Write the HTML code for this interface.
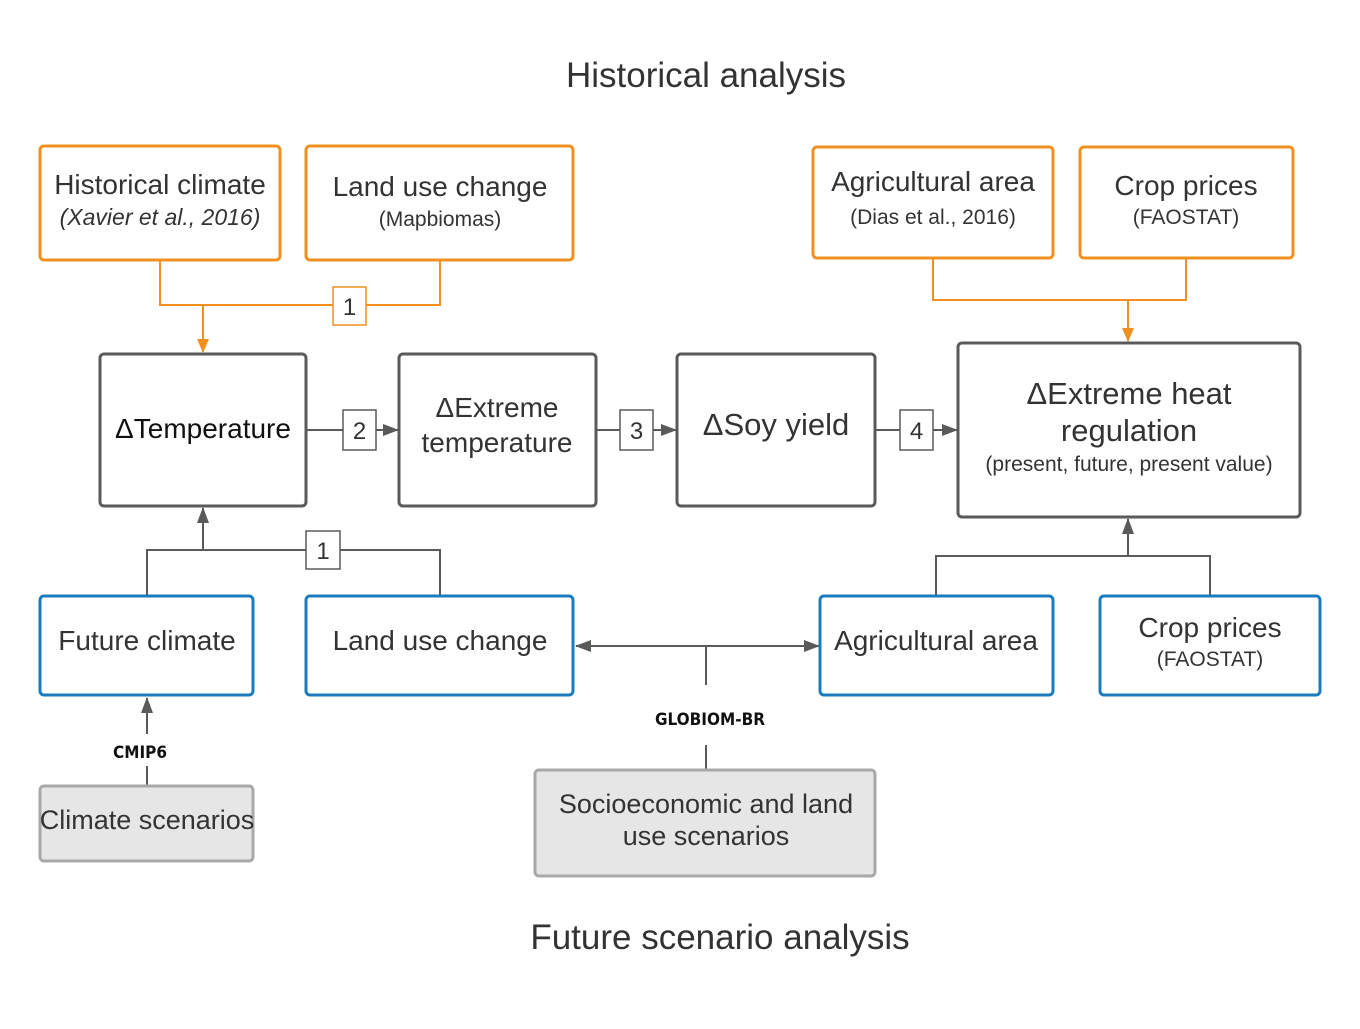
<!DOCTYPE html>
<html><head><meta charset="utf-8"><style>html,body{margin:0;padding:0;background:#fff}svg{display:block}text{font-family:"Liberation Sans",sans-serif;fill:#333}</style></head>
<body>
<svg width="1360" height="1029" viewBox="0 0 1360 1029" xmlns="http://www.w3.org/2000/svg">
<defs>
<marker id="ao" markerWidth="14" markerHeight="14" refX="13" refY="7" orient="auto" markerUnits="userSpaceOnUse"><path d="M0,1 L14,7 L0,13 z" fill="#f0901e"/></marker>
<marker id="ag" markerWidth="16" markerHeight="14" refX="15" refY="7" orient="auto" markerUnits="userSpaceOnUse"><path d="M0,1 L16,7 L0,13 z" fill="#5a5a5a"/></marker>
<marker id="ags" markerWidth="16" markerHeight="14" refX="1" refY="7" orient="auto" markerUnits="userSpaceOnUse"><path d="M16,1 L0,7 L16,13 z" fill="#5a5a5a"/></marker>
</defs>
<text x="706" y="87" font-size="35" text-anchor="middle">Historical analysis</text>
<text x="720" y="949" font-size="35" text-anchor="middle">Future scenario analysis</text>

<g fill="none" stroke="#f0901e" stroke-width="2">
<path d="M160,260 V305 H440 V260"/>
<path d="M203,305 V352" marker-end="url(#ao)"/>
<path d="M933,258 V300 H1186 V258"/>
<path d="M1128,300 V341" marker-end="url(#ao)"/>
</g>
<rect x="333" y="287" width="33" height="38" fill="#fff" stroke="#f0901e" stroke-width="1.5"/>
<text x="349.5" y="315" font-size="24" text-anchor="middle">1</text>

<g fill="none" stroke="#5a5a5a" stroke-width="2">
<path d="M306,430 H398" marker-end="url(#ag)"/>
<path d="M596,430 H676" marker-end="url(#ag)"/>
<path d="M875,430 H957" marker-end="url(#ag)"/>
<path d="M147,596 V550 H440 V596"/>
<path d="M203,550 V508" marker-end="url(#ag)"/>
<path d="M936,596 V556 H1210 V596"/>
<path d="M1128,556 V519" marker-end="url(#ag)"/>
<path d="M576,646 H819" marker-start="url(#ags)" marker-end="url(#ag)"/>
<path d="M706,646 V685"/>
<path d="M706,745 V770"/>
<path d="M147,785 V766"/>
<path d="M147,734 V698" marker-end="url(#ag)"/>
</g>
<g fill="#fff" stroke="#5a5a5a" stroke-width="1.5">
<rect x="343" y="410" width="33" height="40"/>
<rect x="620" y="410" width="33" height="40"/>
<rect x="900" y="410" width="33" height="40"/>
<rect x="306" y="531" width="34" height="38"/>
</g>
<g font-size="24" text-anchor="middle">
<text x="359.5" y="439">2</text><text x="636.5" y="439">3</text><text x="916.5" y="439">4</text><text x="323" y="559">1</text>
</g>
<text x="710" y="725" font-size="17" font-weight="bold" text-anchor="middle" style="fill:#111;font-family:'DejaVu Sans Condensed','Liberation Sans Narrow','Liberation Sans',sans-serif">GLOBIOM-BR</text>
<text x="140" y="758" font-size="17" font-weight="bold" text-anchor="middle" style="fill:#111;font-family:'DejaVu Sans Condensed','Liberation Sans Narrow','Liberation Sans',sans-serif">CMIP6</text>

<g fill="#fff" stroke="#f0901e" stroke-width="3">
<rect x="40" y="146" width="240" height="114" rx="4"/>
<rect x="306" y="146" width="267" height="114" rx="4"/>
<rect x="813" y="147" width="240" height="111" rx="4"/>
<rect x="1080" y="147" width="213" height="111" rx="4"/>
</g>
<g text-anchor="middle">
<text x="160" y="194" font-size="28">Historical climate</text>
<text x="160" y="225" font-size="23" font-style="italic">(Xavier et al., 2016)</text>
<text x="440" y="196" font-size="28">Land use change</text>
<text x="440" y="226" font-size="21">(Mapbiomas)</text>
<text x="933" y="191" font-size="28">Agricultural area</text>
<text x="933" y="224" font-size="21">(Dias et al., 2016)</text>
<text x="1186" y="195" font-size="28">Crop prices</text>
<text x="1186" y="224" font-size="21">(FAOSTAT)</text>
</g>

<g fill="#fff" stroke="#5a5a5a" stroke-width="3">
<rect x="100" y="354" width="206" height="152" rx="4"/>
<rect x="399" y="354" width="197" height="152" rx="4"/>
<rect x="677" y="354" width="198" height="152" rx="4"/>
<rect x="958" y="343" width="342" height="174" rx="4"/>
</g>
<g text-anchor="middle" style="fill:#111">
<text x="203" y="438" font-size="28" style="fill:#111">ΔTemperature</text>
<text x="497" y="417" font-size="28">ΔExtreme</text>
<text x="497" y="452" font-size="28">temperature</text>
<text x="776" y="435" font-size="31">ΔSoy yield</text>
<text x="1129" y="404" font-size="31">ΔExtreme heat</text>
<text x="1129" y="441" font-size="31">regulation</text>
<text x="1129" y="471" font-size="21">(present, future, present value)</text>
</g>

<g fill="#fff" stroke="#1a7bbf" stroke-width="3">
<rect x="40" y="596" width="213" height="99" rx="4"/>
<rect x="306" y="596" width="267" height="99" rx="4"/>
<rect x="820" y="596" width="233" height="99" rx="4"/>
<rect x="1100" y="596" width="220" height="99" rx="4"/>
</g>
<g text-anchor="middle">
<text x="147" y="650" font-size="28">Future climate</text>
<text x="440" y="650" font-size="28">Land use change</text>
<text x="936" y="650" font-size="28">Agricultural area</text>
<text x="1210" y="637" font-size="28">Crop prices</text>
<text x="1210" y="666" font-size="21">(FAOSTAT)</text>
</g>

<g fill="#e6e6e6" stroke="#a8a8a8" stroke-width="3">
<rect x="40" y="786" width="213" height="75" rx="4"/>
<rect x="535" y="770" width="340" height="106" rx="4"/>
</g>
<g text-anchor="middle">
<text x="147" y="829" font-size="27">Climate scenarios</text>
<text x="706" y="813" font-size="27">Socioeconomic and land</text>
<text x="706" y="845" font-size="27">use scenarios</text>
</g>
</svg>
</body></html>
